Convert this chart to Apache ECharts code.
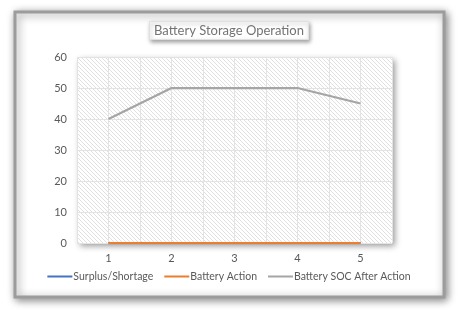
<!DOCTYPE html>
<html><head><meta charset="utf-8">
<script src="https://cdn.jsdelivr.net/npm/echarts@6/dist/echarts.min.js"></script>
<style>html,body{margin:0;padding:0;background:#fff}#c{width:458px;height:310px}</style>
</head><body><div id="c"></div>
<script>
var categories = ['1','2','3','4','5'];
var surplusShortage = [0,0,0,0,0];
var batteryAction = [0,0,0,0,0];
var batterySOC = [40,50,50,50,45];
var yTicks = {min:0, max:60, interval:10};

var pc = document.createElement('canvas');
pc.width = 4; pc.height = 4;
var g = pc.getContext('2d');
g.fillStyle = '#ffffff'; g.fillRect(0,0,4,4);
g.strokeStyle = '#e0e0e0'; g.lineWidth = 1;
g.beginPath(); g.moveTo(0,0); g.lineTo(4,4); g.moveTo(-2,2); g.lineTo(2,6); g.moveTo(2,-2); g.lineTo(6,2); g.stroke();

var font = 'Lato';
var chart = echarts.init(document.getElementById('c'));
chart.setOption({
  animation:false,
  textStyle:{fontFamily:font},
  graphic:[{type:'rect', z:-10, shape:{x:15,y:12,width:429,height:285},
    style:{fill:'#fff', stroke:'#9c9c9c', lineWidth:3, shadowBlur:8, shadowColor:'rgba(0,0,0,0.45)', shadowOffsetX:2, shadowOffsetY:2}}],
  title:{text:'Battery Storage Operation', left:'center', top:21,
    textStyle:{fontFamily:font, fontSize:13, fontWeight:'normal', color:'#737373'},
    padding:[3,5,3,5], backgroundColor:'#fff', borderColor:'#e0e0e0', borderWidth:1,
    shadowBlur:4, shadowColor:'rgba(0,0,0,0.35)', shadowOffsetX:1, shadowOffsetY:2},
  grid:{left:77, top:57, width:315, height:186, show:true, borderWidth:0,
    backgroundColor:{image:pc, repeat:'repeat'},
    shadowBlur:6, shadowColor:'rgba(0,0,0,0.4)', shadowOffsetX:3, shadowOffsetY:3},
  legend:{bottom:23, left:'center', itemWidth:25, itemHeight:2, itemGap:11, icon:'rect',
    textStyle:{fontFamily:font, fontSize:10.5, color:'#595959', padding:[0,0,0,-4]},
    data:['Surplus/Shortage','Battery Action','Battery SOC After Action']},
  xAxis:[{type:'category', data:categories, boundaryGap:true,
    axisLine:{show:false}, axisTick:{show:false},
    axisLabel:{fontFamily:font, fontSize:11, color:'#595959', margin:10},
    splitLine:{show:false}},
   {type:'category', data:['','','','','','','','','',''], boundaryGap:true, position:'bottom',
    axisLine:{show:false}, axisTick:{show:false}, axisLabel:{show:false},
    splitLine:{show:true, lineStyle:{color:'#e3e3e3', width:1}}}],
  yAxis:{type:'value', min:yTicks.min, max:yTicks.max, interval:yTicks.interval,
    axisLine:{show:false}, axisTick:{show:false},
    axisLabel:{fontFamily:font, fontSize:11, color:'#595959', margin:10},
    splitLine:{lineStyle:{color:'#e3e3e3', width:1}}},
  series:[
    {name:'Surplus/Shortage', type:'line', data:surplusShortage, showSymbol:false, symbol:'none',
      color:'#4472C4', lineStyle:{width:2.25, color:'#4472C4'}},
    {name:'Battery Action', type:'line', data:batteryAction, showSymbol:false, symbol:'none',
      color:'#ED7D31', lineStyle:{width:2.25, color:'#ED7D31'}},
    {name:'Battery SOC After Action', type:'line', data:batterySOC, showSymbol:false, symbol:'none',
      color:'#A5A5A5', lineStyle:{width:2.25, color:'#A5A5A5'}}
  ]
});
</script></body></html>
